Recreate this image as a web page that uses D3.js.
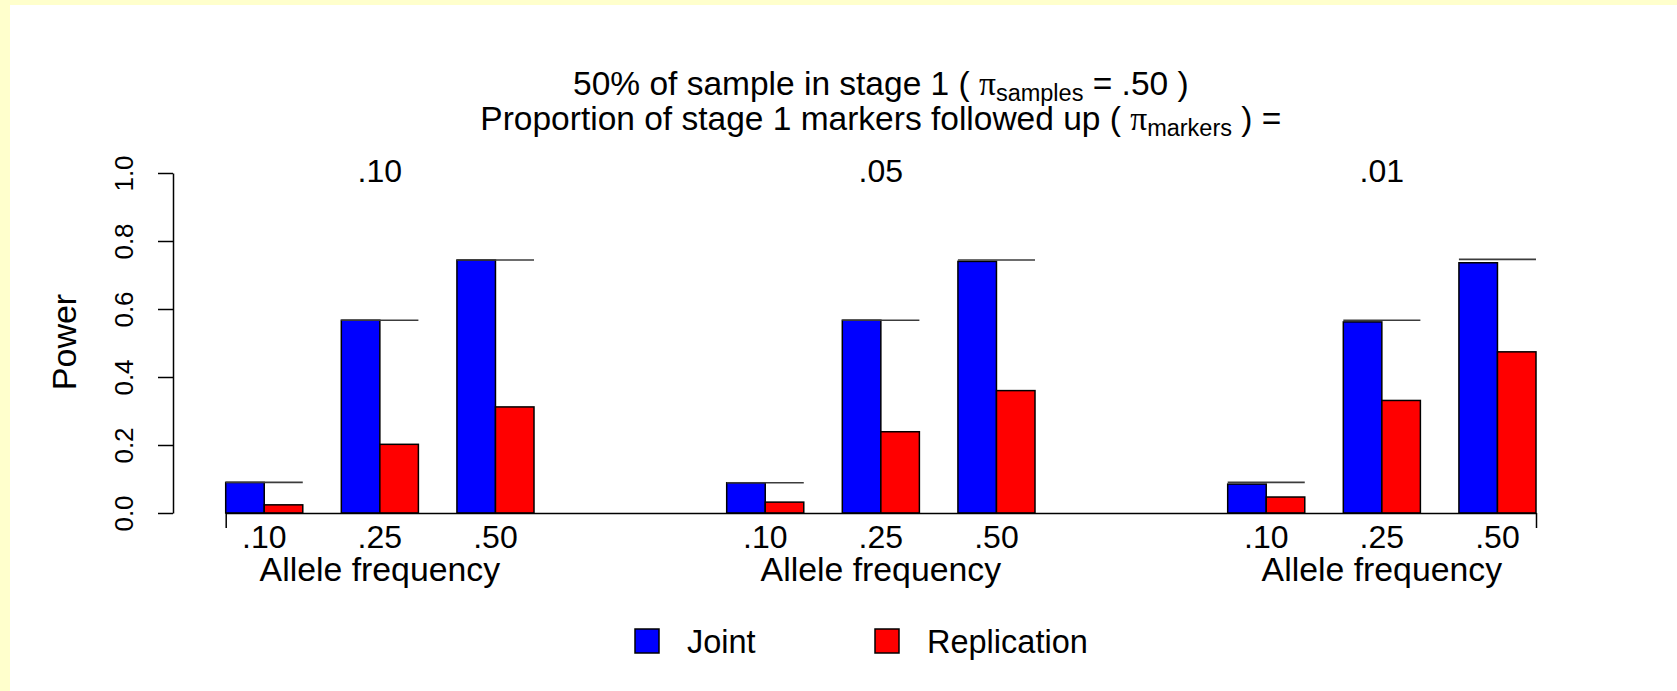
<!DOCTYPE html>
<html lang="en">
<head>
<meta charset="UTF-8">
<title>Power: joint vs replication</title>
<style>
  body { margin: 0; background: #ffffff; }
  svg text { font-family: "Liberation Sans", Arial, sans-serif; fill: #000; }
</style>
</head>
<body>
<div id="chart"></div>
<script src="https://cdn.jsdelivr.net/npm/d3@7"></script>
<script>
// panels: proportion of stage 1 markers followed up
const panels = [".10", ".05", ".01"];
// allele frequency categories inside each panel
const alleles = [".10", ".25", ".50"];
// joint analysis power, one row per panel
const joint = [
  [0.090, 0.567, 0.744],
  [0.089, 0.567, 0.740],
  [0.085, 0.562, 0.736]
];
// replication analysis power
const replication = [
  [0.024, 0.202, 0.312],
  [0.032, 0.239, 0.360],
  [0.047, 0.331, 0.474]
];
// one-stage reference line drawn over each pair
const oneStage = [
  [0.090, 0.567, 0.744],
  [0.089, 0.567, 0.744],
  [0.090, 0.567, 0.746]
];
const yTicks = [0, 0.2, 0.4, 0.6, 0.8, 1.0];
const seriesNames = ["Joint", "Replication"];
const seriesColors = ["#0000ff", "#ff0000"];

const width = 1677, height = 691;

const svg = d3.select("#chart").append("svg")
  .attr("width", width)
  .attr("height", height);

// page frame: yellow strip on the left and top
svg.append("rect").attr("width", width).attr("height", height).attr("fill", "#ffffcc");
svg.append("rect").attr("x", 10).attr("y", 5).attr("width", width - 10).attr("height", height - 5).attr("fill", "#ffffff");

// x in bar units: each panel = 3 pairs with 1-unit gaps (8 units), 5 units between panels
const panelWidth = 8, panelGap = 5;
const nUnits = panels.length * panelWidth + (panels.length - 1) * panelGap;
const x = d3.scaleLinear().domain([0, nUnits]).range([225.7, 1536]);
const y = d3.scaleLinear().domain([0, 1]).range([513, 173]);

const panelStart = p => p * (panelWidth + panelGap);
const pairStart = (p, a) => panelStart(p) + a * 3;

// bars
const bars = [];
panels.forEach((pn, p) => {
  alleles.forEach((al, a) => {
    [joint[p][a], replication[p][a]].forEach((v, s) => {
      bars.push({ p, a, s, v });
    });
  });
});

svg.append("g").selectAll("rect").data(bars).join("rect")
  .attr("x", d => x(pairStart(d.p, d.a) + d.s))
  .attr("width", d => x(1) - x(0))
  .attr("y", d => y(d.v))
  .attr("height", d => y(0) - y(d.v))
  .attr("fill", d => seriesColors[d.s])
  .attr("stroke", "#000")
  .attr("stroke-width", 1.5);

// one-stage lines over each pair
const lines = [];
panels.forEach((pn, p) => alleles.forEach((al, a) => lines.push({ p, a, v: oneStage[p][a] })));
svg.append("g").selectAll("line").data(lines).join("line")
  .attr("x1", d => x(pairStart(d.p, d.a)))
  .attr("x2", d => x(pairStart(d.p, d.a) + 2))
  .attr("y1", d => y(d.v))
  .attr("y2", d => y(d.v))
  .attr("stroke", "#3c3c3c")
  .attr("stroke-width", 1.6);

// x axis: a plain line with end ticks
const xAxis = d3.axisBottom(x).tickValues([0, nUnits]).tickFormat("").tickSize(15).tickSizeOuter(0);
const gx = svg.append("g").attr("transform", `translate(0,${y(0)})`).call(xAxis);
gx.selectAll("path, line").attr("stroke", "#000").attr("stroke-width", 1.5);

// allele labels and axis title per panel
panels.forEach((pn, p) => {
  alleles.forEach((al, a) => {
    svg.append("text")
      .attr("x", x(pairStart(p, a) + 1))
      .attr("y", 548)
      .attr("text-anchor", "middle")
      .attr("font-size", 32)
      .text(al);
  });
  svg.append("text")
    .attr("x", x(panelStart(p) + panelWidth / 2))
    .attr("y", 581)
    .attr("text-anchor", "middle")
    .attr("font-size", 33.8)
    .text("Allele frequency");
  svg.append("text")
    .attr("x", x(panelStart(p) + panelWidth / 2))
    .attr("y", 182)
    .attr("text-anchor", "middle")
    .attr("font-size", 32)
    .text(pn);
});

// y axis
const yAxis = d3.axisLeft(y).tickValues(yTicks).tickFormat(d3.format(".1f")).tickSize(15).tickSizeOuter(0);
const gy = svg.append("g").attr("transform", "translate(173,0)").call(yAxis);
gy.selectAll("path, line").attr("stroke", "#000").attr("stroke-width", 1.5);
gy.selectAll("text")
  .attr("font-size", 26)
  .attr("font-family", "Liberation Sans, Arial, sans-serif")
  .attr("x", null).attr("dy", null)
  .attr("text-anchor", "middle")
  .attr("transform", d => `translate(-40,0) rotate(-90)`);

svg.append("text")
  .attr("transform", `translate(76,${(y(0) + y(1)) / 2 - 1}) rotate(-90)`)
  .attr("text-anchor", "middle")
  .attr("font-size", 34)
  .text("Power");

// title with subscripts
const cx = (x(0) + x(nUnits)) / 2;
const t1 = svg.append("text").attr("x", cx).attr("y", 95).attr("text-anchor", "middle").attr("font-size", 33.5);
t1.append("tspan").text("50% of sample in stage 1 ( ");
t1.append("tspan").attr("font-family", "Liberation Serif, serif").text("\u03c0");
t1.append("tspan").attr("font-size", 23.5).attr("dy", 6).text("samples");
t1.append("tspan").attr("dy", -6).text(" = .50 )");

const t2 = svg.append("text").attr("x", cx).attr("y", 130).attr("text-anchor", "middle").attr("font-size", 33.5);
t2.append("tspan").text("Proportion of stage 1 markers followed up ( ");
t2.append("tspan").attr("font-family", "Liberation Serif, serif").text("\u03c0");
t2.append("tspan").attr("font-size", 23.5).attr("dy", 6).text("markers");
t2.append("tspan").attr("dy", -6).text(" ) =");

// legend
const legendX = d3.scaleOrdinal().domain(seriesNames).range([635, 875]);
const lg = svg.append("g").selectAll("g").data(seriesNames).join("g")
  .attr("transform", d => `translate(${legendX(d)},629)`);
lg.append("rect")
  .attr("width", 24).attr("height", 24)
  .attr("fill", (d, i) => seriesColors[i])
  .attr("stroke", "#000").attr("stroke-width", 1.5);
lg.append("text")
  .attr("x", 52).attr("y", 24)
  .attr("font-size", 32.5)
  .text(d => d);
</script>
</body>
</html>
